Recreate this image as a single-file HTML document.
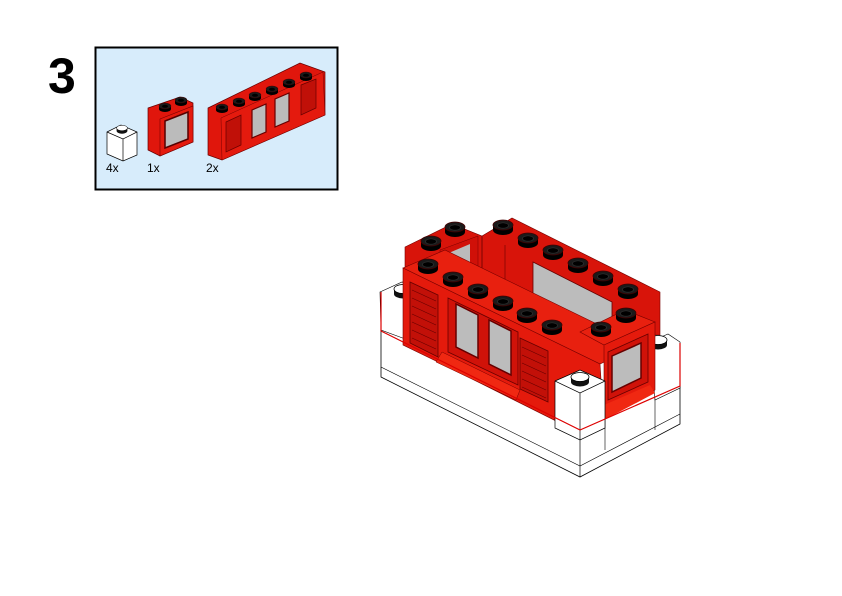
<!DOCTYPE html>
<html><head><meta charset="utf-8"><style>
html,body{margin:0;padding:0;background:#fff}
svg{display:block}
</style></head><body>
<svg width="842" height="596" viewBox="0 0 842 596" xmlns="http://www.w3.org/2000/svg">
<defs>
<g id="stud"><path d="M-10,0 v5 a10,5 0 0 0 20,0 v-5z" fill="#000"/><ellipse cx="0" cy="0" rx="10" ry="5" fill="#1a1a1a" stroke="#400" stroke-width="0.8"/><ellipse cx="0" cy="0.5" rx="5.5" ry="2.7" fill="#000" stroke="#333" stroke-width="0.6"/></g>
<g id="wstud"><path d="M-9,0 v5 a9,4.5 0 0 0 18,0 v-5z" fill="#111"/><ellipse cx="0" cy="0" rx="9" ry="4.5" fill="#fff" stroke="#000" stroke-width="0.8"/></g>
<g id="sstud"><path d="M-6,0 v3 a6,3 0 0 0 12,0 v-3z" fill="#000"/><ellipse cx="0" cy="0" rx="6" ry="3" fill="#1a1a1a" stroke="#400" stroke-width="0.5"/><ellipse cx="0" cy="0.3" rx="3" ry="1.5" fill="#000"/></g>
</defs>
<text x="48" y="93" font-family="Liberation Sans, sans-serif" font-weight="bold" font-size="50">3</text>
<rect x="95.5" y="47.5" width="242" height="142" fill="#d7ecfb" stroke="#000" stroke-width="2"/>
<!-- part 1: white brick -->
<polygon points="107,132 121,125 137,132 137,155 123,161 107,154" fill="#fff" stroke="#000" stroke-width="0.7"/>
<polyline points="107,132 123,139 137,132" fill="none" stroke="#000" stroke-width="0.7"/>
<line x1="123" y1="139" x2="123" y2="161" stroke="#000" stroke-width="0.7"/>
<use href="#wstud" transform="translate(122,128) scale(0.6)"/>
<text x="106" y="172" font-family="Liberation Sans, sans-serif" font-size="12">4x</text>
<!-- part 2 -->
<polygon points="148,108 180,97 193,103 193,142 160,156 148,150" fill="#e0160c" stroke="#600" stroke-width="0.7"/>
<polygon points="160,119 193,106 193,142 160,156" fill="#e41a0e" stroke="#700" stroke-width="0.6"/>
<polygon points="165,121 188,112 188,139 165,148" fill="#bbb" stroke="#500" stroke-width="1.5"/>
<use href="#sstud" transform="translate(165,106)"/><use href="#sstud" transform="translate(181,100)"/>
<text x="147" y="172" font-family="Liberation Sans, sans-serif" font-size="12">1x</text>
<!-- part 3 -->
<polygon points="208,108 300,63 325,72 325,115 222,160 208,155" fill="#e0160c" stroke="#600" stroke-width="0.7"/>
<polygon points="221,118 323,72 325,115 222,160" fill="#e41a0e" stroke="#700" stroke-width="0.5"/>
<polygon points="226,122 241,115 241,145 226,152" fill="#c01008" stroke="#600" stroke-width="0.7"/>
<polygon points="252,110 266,104 266,132 252,138" fill="#bbb" stroke="#600" stroke-width="1.2"/>
<polygon points="275,99 289,93 289,121 275,127" fill="#bbb" stroke="#600" stroke-width="1.2"/>
<polygon points="301,85 316,79 316,108 301,115" fill="#c01008" stroke="#600" stroke-width="0.7"/>
<use href="#sstud" transform="translate(222,107)"/><use href="#sstud" transform="translate(239,101)"/><use href="#sstud" transform="translate(255,95)"/><use href="#sstud" transform="translate(272,89)"/><use href="#sstud" transform="translate(289,82)"/><use href="#sstud" transform="translate(306,75)"/>
<text x="206" y="172" font-family="Liberation Sans, sans-serif" font-size="12">2x</text>

<!-- MAIN MODEL -->
<polygon points="381,292 403,282 680,343 680,424 580,477 381,377" fill="#fff" stroke="#000" stroke-width="0.8"/>
<polyline points="381,367 580,466 680,414" fill="none" stroke="#000" stroke-width="0.6"/>
<line x1="580" y1="428" x2="580" y2="477" stroke="#000" stroke-width="0.7"/>
<line x1="605" y1="416" x2="605" y2="450" stroke="#000" stroke-width="0.6"/>
<line x1="655" y1="390" x2="655" y2="430" stroke="#000" stroke-width="0.6"/>
<polygon points="405,247 452,224 482,236 512,218 660,292 660,335 405,335" fill="#d8140a" stroke="#700" stroke-width="0.6"/>
<polygon points="440,250 478,236 478,285 440,300" fill="#d01008" stroke="#700" stroke-width="0.5"/>
<polygon points="444,255 470,244 470,270 444,278" fill="#bbb"/>
<polygon points="533,262 612,302 612,345 533,305" fill="#bcbcbc" stroke="#600" stroke-width="0.8"/>
<line x1="482" y1="236" x2="482" y2="290" stroke="#600" stroke-width="0.8"/>
<line x1="505" y1="245" x2="505" y2="290" stroke="#600" stroke-width="0.6"/>
<polygon points="380,292 402,282 408,285 408,340 381,330" fill="#fff" stroke="#000" stroke-width="0.6"/>
<use href="#wstud" transform="translate(403,289)"/>
<polygon points="650,342 668,334 680,342 680,388 655,400" fill="#fff" stroke="#000" stroke-width="0.6"/>
<use href="#wstud" transform="translate(658,340)"/>
<polygon points="403,268 445,250 640,345 600,364" fill="#e8200f" stroke="#700" stroke-width="0.6"/>
<polygon points="403,268 600,364 604,425 580,433 440,363 403,345" fill="#e41a0c" stroke="#700" stroke-width="0.6"/>
<polygon points="410,282 438,295 438,357 410,343" fill="#c21008" stroke="#600" stroke-width="0.8"/>
<g stroke="#600" stroke-width="0.6"><line x1="412" y1="290" x2="436" y2="301"/><line x1="412" y1="298" x2="436" y2="309"/><line x1="412" y1="306" x2="436" y2="317"/><line x1="412" y1="314" x2="436" y2="325"/><line x1="412" y1="322" x2="436" y2="333"/><line x1="412" y1="330" x2="436" y2="341"/><line x1="412" y1="338" x2="436" y2="349"/></g>
<polygon points="448,298 518,332 518,385 448,352" fill="#d01209" stroke="#600" stroke-width="0.8"/>
<polygon points="456,304 478,315 478,358 456,347" fill="#bcbcbc" stroke="#600" stroke-width="1.5"/>
<polygon points="489,320 511,331 511,375 489,364" fill="#bcbcbc" stroke="#600" stroke-width="1.5"/>
<polygon points="442,352 520,390 516,400 436,362" fill="#f02812" stroke="#700" stroke-width="0.5"/>
<polygon points="520,338 548,351 548,402 520,389" fill="#c21008" stroke="#600" stroke-width="0.8"/>
<g stroke="#600" stroke-width="0.6"><line x1="522" y1="347" x2="546" y2="358"/><line x1="522" y1="355" x2="546" y2="366"/><line x1="522" y1="363" x2="546" y2="374"/><line x1="522" y1="371" x2="546" y2="382"/><line x1="522" y1="379" x2="546" y2="390"/><line x1="522" y1="387" x2="546" y2="398"/></g>
<polygon points="580,332 625,310 655,322 604,345" fill="#e8200f" stroke="#700" stroke-width="0.6"/>
<polygon points="604,345 655,322 655,390 604,418" fill="#e41a0c" stroke="#700" stroke-width="0.6"/>
<polygon points="608,352 648,334 648,382 608,400" fill="#d01209" stroke="#600" stroke-width="0.8"/>
<polygon points="612,356 641,343 641,378 612,392" fill="#bcbcbc" stroke="#600" stroke-width="1.5"/>
<polygon points="604,405 650,385 655,393 604,420" fill="#f02812"/>
<polygon points="555,381 580,370 605,381 605,428 580,440 555,428" fill="#fff" stroke="#000" stroke-width="0.7"/>
<polyline points="555,381 580,393 605,381" fill="none" stroke="#000" stroke-width="0.7"/>
<line x1="580" y1="393" x2="580" y2="440" stroke="#000" stroke-width="0.7"/>
<use href="#wstud" transform="translate(580,377)"/>
<polyline points="381,292 381,331 580,430 680,386 680,343" fill="none" stroke="#d00" stroke-width="1.2"/>
<use href="#stud" transform="translate(455,227)"/>
<use href="#stud" transform="translate(431,241)"/>
<use href="#stud" transform="translate(503,225)"/>
<use href="#stud" transform="translate(528,238)"/>
<use href="#stud" transform="translate(553,250)"/>
<use href="#stud" transform="translate(578,263)"/>
<use href="#stud" transform="translate(603,276)"/>
<use href="#stud" transform="translate(628,289)"/>
<use href="#stud" transform="translate(428,264)"/>
<use href="#stud" transform="translate(453,277)"/>
<use href="#stud" transform="translate(478,289)"/>
<use href="#stud" transform="translate(503,301)"/>
<use href="#stud" transform="translate(527,313)"/>
<use href="#stud" transform="translate(552,325)"/>
<use href="#stud" transform="translate(601,327)"/>
<use href="#stud" transform="translate(626,313)"/>
</svg>
</body></html>
